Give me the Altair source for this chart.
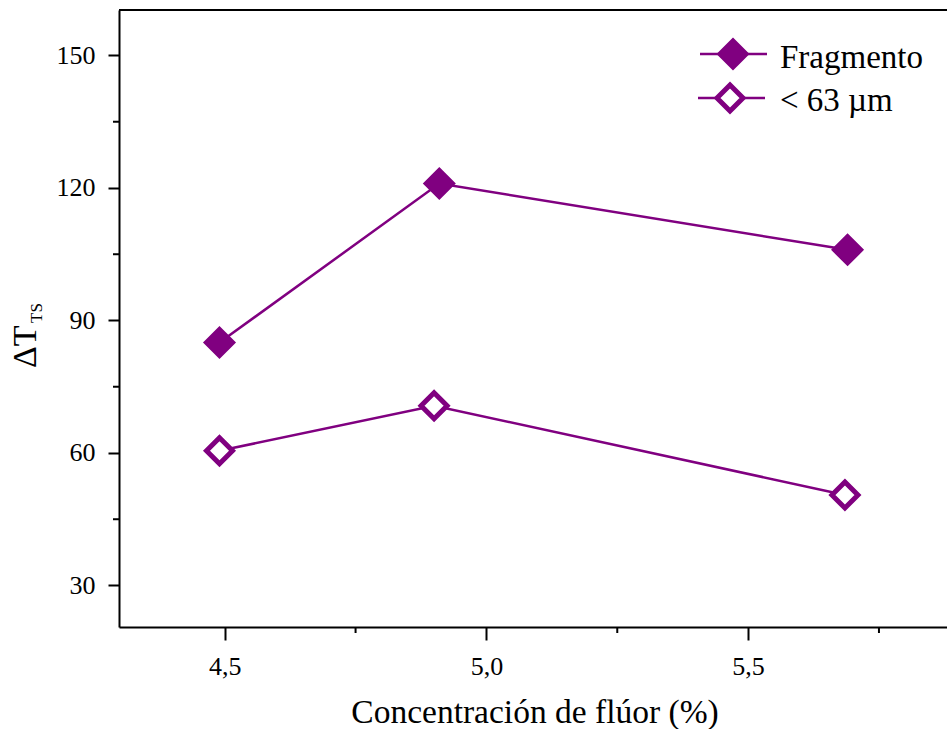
import altair as alt
import pandas as pd

PURPLE = "#800080"
FONT = "Liberation Serif"

# Fluorine concentration (%) and ΔT_TS for each sample type
conc_fragmento = [4.49, 4.91, 5.69]
dt_fragmento = [85, 121, 106]
conc_fino = [4.49, 4.90, 5.685]
dt_fino = [60.5, 70.7, 50.5]

serie_fragmento = "Fragmento"
serie_fino = "< 63 µm"

x_major = [4.5, 5.0, 5.5]
x_minor = [4.75, 5.25, 5.75]
y_major = [30, 60, 90, 120, 150]
y_minor = [45, 75, 105, 135]

W, H = 828, 617
x_scale = alt.Scale(domain=[4.298, 5.88], nice=False, zero=False)
y_scale = alt.Scale(domain=[20.6, 160.3], nice=False, zero=False)

df = pd.DataFrame({
    "serie": [serie_fragmento] * len(conc_fragmento) + [serie_fino] * len(conc_fino),
    "conc": conc_fragmento + conc_fino,
    "dt": dt_fragmento + dt_fino,
})
one = pd.DataFrame({"k": [0]})

base = alt.Chart(df)

lines = base.mark_line(color=PURPLE, strokeWidth=2.5).encode(
    x=alt.X(
        "conc:Q",
        scale=x_scale,
        axis=alt.Axis(
            values=x_major,
            tickSize=13,
            labelPadding=13,
            labelExpr="replace(format(datum.value, '.1f'), '.', ',')",
            title=None,
        ),
    ),
    y=alt.Y(
        "dt:Q",
        scale=y_scale,
        axis=alt.Axis(values=y_major, tickSize=11, labelPadding=13, title=None),
    ),
    detail="serie:N",
)

pts_frag = base.transform_filter(alt.datum.serie == serie_fragmento).mark_point(
    shape="diamond", size=676, filled=True, fill=PURPLE, stroke=PURPLE,
    strokeWidth=5, opacity=1,
).encode(
    x=alt.X("conc:Q", axis=None),
    y=alt.Y("dt:Q", axis=None),
)

pts_fino = base.transform_filter(alt.datum.serie == serie_fino).mark_point(
    shape="diamond", size=676, filled=True, fill="white", stroke=PURPLE,
    strokeWidth=5, opacity=1,
).encode(
    x=alt.X("conc:Q", axis=None),
    y=alt.Y("dt:Q", axis=None),
)

# minor ticks
y_minor_rules = alt.Chart(pd.DataFrame({"v": y_minor})).mark_rule(
    color="black", strokeWidth=2
).encode(y=alt.Y("v:Q", scale=y_scale, axis=None), x=alt.value(0), x2=alt.value(-6))

x_minor_rules = alt.Chart(pd.DataFrame({"v": x_minor})).mark_rule(
    color="black", strokeWidth=2
).encode(x=alt.X("v:Q", scale=x_scale, axis=None), y=alt.value(H), y2=alt.value(H + 6))

# top frame line
top_line = alt.Chart(one).mark_rule(color="black", strokeWidth=2).encode(
    x=alt.value(0), x2=alt.value(W), y=alt.value(0)
)

# axis titles
y_title_main = alt.Chart(one).mark_text(
    text="ΔT", angle=270, align="left", baseline="alphabetic",
    font=FONT, fontSize=34, color="black",
).encode(x=alt.value(-83), y=alt.value(358))

y_title_sub = alt.Chart(one).mark_text(
    text="TS", angle=270, align="left", baseline="alphabetic",
    font=FONT, fontSize=17, color="black",
).encode(x=alt.value(-77), y=alt.value(313))

x_title = alt.Chart(one).mark_text(
    text="Concentración de flúor (%)", align="center", baseline="alphabetic",
    font=FONT, fontSize=33.5, color="black",
).encode(x=alt.value(416), y=alt.value(713))

# legend
def legend_row(label, fill, x0, x1, xm, ym, yt):
    seg = alt.Chart(one).mark_rule(color=PURPLE, strokeWidth=2.5).encode(
        x=alt.value(x0), x2=alt.value(x1), y=alt.value(ym)
    )
    sym = alt.Chart(one).mark_point(
        shape="diamond", size=676, filled=True, fill=fill, stroke=PURPLE,
        strokeWidth=5, opacity=1,
    ).encode(x=alt.value(xm), y=alt.value(ym))
    txt = alt.Chart(one).mark_text(
        text=label, align="left", baseline="alphabetic",
        font=FONT, fontSize=33, color="black",
    ).encode(x=alt.value(661), y=alt.value(yt))
    return seg + sym + txt

leg1 = legend_row(serie_fragmento, PURPLE, 581, 648, 614, 44, 58)
leg2 = legend_row(serie_fino, "white", 579, 646, 611, 88, 101)

chart = alt.layer(
    lines, pts_frag, pts_fino, y_minor_rules, x_minor_rules, top_line,
    y_title_main, y_title_sub, x_title, leg1, leg2,
).resolve_axis(
    x="independent", y="independent"
).properties(
    width=W,
    height=H,
    autosize=alt.AutoSizeParams(type="none"),
    padding={"left": 119, "top": 10, "right": 0, "bottom": 102},
    background="white",
).configure_view(
    stroke=None
).configure_axis(
    grid=False,
    domainColor="black",
    domainWidth=2,
    tickColor="black",
    tickWidth=2,
    labelFont=FONT,
    labelFontSize=26,
    labelColor="black",
)

chart.save("out.html", embed_options={"renderer": "svg", "actions": False})
